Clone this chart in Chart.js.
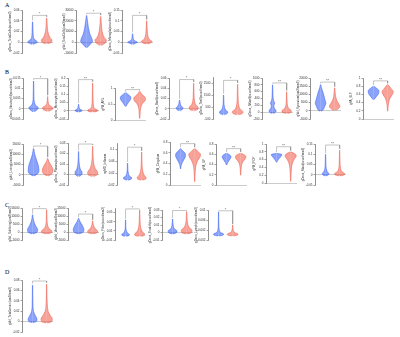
<!DOCTYPE html>
<html>
<head>
<meta charset="utf-8">
<script src="https://cdn.jsdelivr.net/npm/chart.js@4.4.0/dist/chart.umd.min.js"></script>
<style>
  body { margin: 0; background: #fff; }
  #fig { position: relative; width: 400px; height: 337px; overflow: hidden; }
  #fig canvas { position: absolute; }
  .tag { position: absolute; font: 6px "Liberation Serif", serif; color: #000; }
</style>
</head>
<body>
<div id="fig">
  <div class="tag" style="left:5px;top:2px">A</div>
  <div class="tag" style="left:5px;top:69px">B</div>
  <div class="tag" style="left:5px;top:202px">C</div>
  <div class="tag" style="left:5px;top:269px">D</div>
</div>
<script>
// groups on the x axis
const groups = ["Control", "RA"];

// one entry per small panel: A1-A3, B1-B15, C1-C5, D1
const panelNames = [
  "gDens_TotalCells(count/mm3)", "gVol_TotalCells(um3/mm3)", "gDens_Microglia(count/mm3)",
  "gDens_Neutrophil(count/mm3)", "gDens_Monocyte(count/mm3)", "gFA_ARL",
  "gDens_Bcell(count/mm3)", "gDens_Tcell(count/mm3)", "gDens_NKcell(count/mm3)",
  "gVol_Synovium(um3/mm3)", "gFA_SLF",
  "gVol_Lining(um3/mm3)", "gDens_Plasma(count/mm3)", "ngMD_Inflamm",
  "gFA_Cingulum", "gFA_ILF", "gFA_IFOF", "gDens_Mast(count/mm3)",
  "gVol_Sublining(um3/mm3)", "gVol_Vessel(um3/mm3)", "gDens_Fibro(count/mm3)",
  "gDens_Endoth(count/mm3)", "gDens_Lymph(count/mm3)",
  "gVol_TotalLesion(um3/mm3)"
];

const axisMin  = [-0.02, -10000, -0.05, -0.005, -0.05, 0, -0.02, -500, -200, -5000, 0,
                  -5000, -0.01, -0.02, 0, 0, 0, -0.05,
                  -5000, -5000, -0.01, -0.01, -0.002, -0.02];
const axisMax  = [0.06, 30000, 0.15, 0.015, 0.2, 1, 0.06, 3000, 1000, 20000, 1,
                  15000, 0.03, 0.12, 0.8, 0.8, 1, 0.15,
                  15000, 15000, 0.06, 0.03, 0.01, 0.08];
const axisStep = [0.02, 10000, 0.05, 0.005, 0.05, 0.5, 0.02, 500, 200, 5000, 0.2,
                  5000, 0.01, 0.02, 0.2, 0.2, 0.2, 0.05,
                  5000, 5000, 0.01, 0.01, 0.002, 0.02];

// violin outlines: y levels and relative density (1 = widest)
const controlY = [
  [-0.004, -0.002, 0, 0.003, 0.006, 0.012, 0.024, 0.038],
  [-5000, -2000, 1000, 4000, 8000, 14000, 20000, 25000],
  [-0.01, -0.004, 0, 0.005, 0.012, 0.025, 0.04],
  [-0.0015, -0.0005, 0.0005, 0.0015, 0.003, 0.006, 0.01, 0.0135],
  [-0.008, -0.002, 0.003, 0.01, 0.02, 0.04],
  [0.42, 0.5, 0.6, 0.68, 0.74, 0.8, 0.86],
  [-0.004, -0.001, 0.002, 0.006, 0.011, 0.017],
  [-150, -50, 80, 250, 500, 900, 1500],
  [-40, 0, 40, 100, 180, 260, 350, 500, 650, 800],
  [-300, 700, 2700, 4700, 6700, 10800, 14000, 16000],
  [0.47, 0.55, 0.62, 0.69, 0.74, 0.8],
  [-600, 500, 1600, 4000, 7200, 10000, 12800],
  [-0.002, 0, 0.002, 0.005, 0.01, 0.016, 0.022],
  [-0.004, 0, 0.004, 0.01, 0.02, 0.035, 0.053],
  [0.3, 0.36, 0.42, 0.48, 0.55, 0.6, 0.64, 0.68],
  [0.39, 0.44, 0.5, 0.55, 0.59, 0.62],
  [0.53, 0.6, 0.66, 0.7, 0.73, 0.76],
  [-0.006, 0, 0.006, 0.015, 0.03, 0.06, 0.1],
  [-1200, -200, 1400, 4400, 7500, 10800],
  [-1200, -200, 1400, 4400, 6500, 8600],
  [-0.002, 0, 0.002, 0.006, 0.012, 0.022, 0.034],
  [-0.002, 0, 0.002, 0.005, 0.01, 0.018],
  [-0.0004, 0, 0.0004, 0.001, 0.002, 0.004, 0.007, 0.0093],
  [-0.002, 0, 0.0045, 0.012, 0.02, 0.035, 0.05, 0.07]
];
const controlDensity = [
  [0.1, 0.5, 0.85, 0.6, 0.25, 0.12, 0.07, 0.02],
  [0.1, 0.6, 1.0, 0.85, 0.55, 0.3, 0.15, 0.03],
  [0.1, 0.55, 0.85, 0.5, 0.2, 0.08, 0.03],
  [0.1, 0.6, 0.8, 0.4, 0.15, 0.06, 0.04, 0.02],
  [0.1, 0.5, 0.6, 0.25, 0.1, 0.03],
  [0.05, 0.3, 0.7, 0.9, 0.8, 0.4, 0.05],
  [0.1, 0.5, 0.55, 0.25, 0.1, 0.03],
  [0.1, 0.6, 0.7, 0.35, 0.15, 0.06, 0.02],
  [0.1, 0.5, 0.6, 0.35, 0.2, 0.35, 0.15, 0.07, 0.04, 0.02],
  [0.1, 0.45, 0.7, 0.9, 0.75, 0.45, 0.15, 0.03],
  [0.05, 0.5, 0.85, 0.9, 0.6, 0.05],
  [0.1, 0.7, 0.9, 0.85, 0.5, 0.2, 0.03],
  [0.1, 0.55, 0.6, 0.3, 0.12, 0.05, 0.02],
  [0.1, 0.65, 0.7, 0.3, 0.12, 0.05, 0.02],
  [0.03, 0.1, 0.3, 0.6, 0.85, 0.7, 0.3, 0.03],
  [0.03, 0.2, 0.55, 0.75, 0.5, 0.03],
  [0.03, 0.3, 0.6, 0.85, 0.9, 0.05],
  [0.1, 0.5, 0.55, 0.3, 0.12, 0.05, 0.02],
  [0.1, 0.75, 0.85, 0.45, 0.15, 0.03],
  [0.1, 0.75, 0.9, 0.6, 0.25, 0.03],
  [0.1, 0.6, 0.65, 0.3, 0.1, 0.04, 0.02],
  [0.1, 0.7, 0.75, 0.3, 0.1, 0.02],
  [0.1, 0.8, 0.85, 0.35, 0.12, 0.05, 0.03, 0.02],
  [0.1, 0.6, 0.75, 0.45, 0.15, 0.06, 0.04, 0.02]
];
const raY = [
  [-0.003, 0, 0.004, 0.008, 0.014, 0.02, 0.03, 0.045],
  [-3000, -500, 2000, 4500, 8000, 12000, 18000, 24000],
  [-0.008, -0.002, 0.004, 0.012, 0.025, 0.05, 0.075, 0.1],
  [-0.0012, -0.0003, 0.0006, 0.0015, 0.0025, 0.004, 0.006],
  [-0.008, -0.002, 0.004, 0.012, 0.03, 0.06, 0.1, 0.17],
  [0.05, 0.2, 0.4, 0.52, 0.6, 0.68, 0.75, 0.82, 0.9],
  [-0.004, -0.001, 0.003, 0.008, 0.015, 0.03, 0.05],
  [-150, -40, 100, 300, 600, 1200, 1800, 2400],
  [-40, 0, 40, 100, 180, 300, 450, 600],
  [200, 1200, 2700, 4700, 7000, 10000, 14000],
  [0.19, 0.3, 0.42, 0.52, 0.6, 0.67, 0.74, 0.84],
  [-600, 500, 2400, 4800, 6500, 8000],
  [-0.002, 0, 0.002, 0.006, 0.012, 0.02, 0.027],
  [-0.004, 0, 0.005, 0.012, 0.025, 0.045, 0.07, 0.09],
  [0.06, 0.15, 0.25, 0.35, 0.45, 0.52, 0.57, 0.62, 0.68],
  [0.19, 0.28, 0.38, 0.45, 0.5, 0.55, 0.59, 0.62],
  [0.04, 0.15, 0.3, 0.45, 0.55, 0.63, 0.69, 0.74, 0.8],
  [-0.006, 0, 0.006, 0.015, 0.03, 0.06, 0.09, 0.12],
  [-1200, -200, 800, 2000, 4400, 8000, 14000],
  [-1200, -200, 800, 2500, 4500, 7000],
  [-0.002, 0, 0.003, 0.008, 0.016, 0.03, 0.045, 0.056],
  [-0.002, 0, 0.003, 0.007, 0.013, 0.02, 0.028],
  [-0.0004, 0, 0.0004, 0.001, 0.002, 0.004],
  [-0.003, 0, 0.005, 0.012, 0.02, 0.035, 0.055, 0.072]
];
const raDensity = [
  [0.2, 0.8, 0.9, 0.6, 0.35, 0.2, 0.1, 0.03],
  [0.15, 0.8, 0.95, 0.6, 0.35, 0.2, 0.1, 0.03],
  [0.2, 0.7, 0.9, 0.5, 0.25, 0.12, 0.06, 0.03],
  [0.15, 0.8, 0.85, 0.4, 0.15, 0.06, 0.02],
  [0.15, 0.8, 0.85, 0.4, 0.15, 0.08, 0.05, 0.02],
  [0.03, 0.08, 0.2, 0.5, 0.9, 1.0, 0.7, 0.3, 0.05],
  [0.15, 0.7, 0.75, 0.35, 0.15, 0.06, 0.02],
  [0.15, 0.8, 0.9, 0.45, 0.2, 0.08, 0.05, 0.02],
  [0.15, 0.75, 0.8, 0.4, 0.15, 0.08, 0.04, 0.02],
  [0.15, 0.6, 0.9, 0.6, 0.3, 0.12, 0.03],
  [0.02, 0.08, 0.2, 0.45, 0.8, 0.95, 0.6, 0.05],
  [0.1, 0.7, 0.9, 0.55, 0.2, 0.03],
  [0.15, 0.8, 0.85, 0.4, 0.15, 0.06, 0.02],
  [0.15, 0.7, 0.75, 0.45, 0.2, 0.08, 0.04, 0.02],
  [0.02, 0.05, 0.1, 0.2, 0.5, 0.9, 1.0, 0.6, 0.03],
  [0.02, 0.06, 0.15, 0.35, 0.7, 0.9, 0.6, 0.03],
  [0.02, 0.05, 0.1, 0.2, 0.4, 0.7, 0.95, 0.8, 0.05],
  [0.15, 0.8, 0.85, 0.4, 0.15, 0.07, 0.04, 0.02],
  [0.15, 0.9, 0.85, 0.45, 0.15, 0.06, 0.02],
  [0.15, 0.85, 0.8, 0.35, 0.12, 0.02],
  [0.15, 0.8, 0.85, 0.45, 0.2, 0.08, 0.04, 0.02],
  [0.15, 0.85, 0.9, 0.4, 0.15, 0.06, 0.02],
  [0.15, 0.85, 0.9, 0.35, 0.1, 0.02],
  [0.15, 0.85, 0.95, 0.6, 0.25, 0.1, 0.05, 0.02]
];

// significance bracket height and label
const bracketY = [0.05, 27000, 0.125, 0.0147, 0.19, 0.95, 0.057, 2720, 856, 17500, 0.93,
                  14000, 0.029, 0.106, 0.77, 0.71, 0.93, 0.145,
                  14600, 11200, 0.058, 0.0293, 0.0097, 0.078];
const sigLabels = ["*", "*", "*", "*", "**", "**", "*", "*", "**", "**", "**",
                   "*", "*", "*", "**", "**", "**", "**",
                   "*", "*", "*", "*", "*", "*"];

// panel placement: y-axis x, plot top, plot bottom (px)
const layout = [
  [22, 10, 53], [76, 10, 53], [122, 10, 53],
  [23, 78, 119], [68, 78, 119], [115, 88, 120], [169, 78, 119], [213, 77, 119],
  [262, 78, 119], [310, 78, 119], [363, 78, 119],
  [23, 144, 185], [68, 143, 185], [117, 143, 185], [170, 142, 185], [216, 144, 185],
  [266, 144, 183], [315, 144, 185],
  [22, 208, 240], [68, 208, 240], [115, 208, 240], [162, 210, 240], [208, 210, 240],
  [22, 280, 332]
];

const YW = 14, XH = 6, PAD_T = 4, PAD_R = 2, PW = 31;
const FONT = "Liberation Sans";
const fig = document.getElementById("fig");

const sigPlugin = {
  id: "sig",
  afterDatasetsDraw(chart, args, opts) {
    const ctx = chart.ctx;
    ctx.save();
    ctx.fillStyle = "#555";
    ctx.font = "4px '" + FONT + "'";
    ctx.textAlign = "center";
    ctx.textBaseline = "bottom";
    ctx.fillText(opts.text, chart.scales.x.getPixelForValue(1.5), chart.scales.y.getPixelForValue(opts.y) + 0.8);
    ctx.restore();
  }
};

function violin(c, ys, ds, line, fillCol) {
  return [-1, 1].map(side => ({
    data: ys.map((y, k) => ({ x: c + side * 0.42 * ds[k], y: y })),
    borderColor: line,
    backgroundColor: fillCol,
    borderWidth: 0.5,
    pointRadius: 0,
    fill: { value: c },
    cubicInterpolationMode: "monotone"
  }));
}

panelNames.forEach((name, i) => {
  const [ax, top, bottom] = layout[i];
  const cv = document.createElement("canvas");
  cv.width = YW + PW + PAD_R;
  cv.height = PAD_T + (bottom - top) + XH;
  cv.style.left = (ax - YW) + "px";
  cv.style.top = (top - PAD_T) + "px";
  fig.appendChild(cv);

  const range = axisMax[i] - axisMin[i];
  const legL = Math.max(...controlY[i]) + range * 0.03;
  const legR = Math.max(...raY[i]) + range * 0.03;

  new Chart(cv, {
    type: "line",
    data: {
      datasets: [
        ...violin(1, controlY[i], controlDensity[i], "rgb(50,90,240)", "rgba(60,100,245,0.6)"),
        ...violin(2, raY[i], raDensity[i], "rgb(236,86,70)", "rgba(242,98,82,0.6)"),
        {
          data: [{ x: 1, y: legL }, { x: 1, y: bracketY[i] }, { x: 2, y: bracketY[i] }, { x: 2, y: legR }],
          borderColor: "#888", borderWidth: 0.5, pointRadius: 0, fill: false, tension: 0
        }
      ]
    },
    options: {
      indexAxis: "y",
      responsive: false,
      animation: false,
      devicePixelRatio: 1,
      layout: { padding: { top: PAD_T, right: PAD_R, left: 0, bottom: 0 } },
      plugins: {
        legend: { display: false },
        tooltip: { enabled: false },
        sig: { text: sigLabels[i], y: bracketY[i] }
      },
      scales: {
        x: {
          type: "linear", min: 0.25, max: 2.45,
          grid: { display: false }, border: { display: false },
          afterBuildTicks: s => { s.ticks = [{ value: 1 }, { value: 2 }]; },
          afterFit: s => { s.height = XH; },
          ticks: {
            callback: v => groups[v - 1], autoSkip: false, maxRotation: 0,
            font: { size: 3, family: FONT }, color: "#333", padding: 1
          }
        },
        y: {
          type: "linear", min: axisMin[i], max: axisMax[i],
          afterFit: s => { s.width = YW; },
          ticks: {
            stepSize: axisStep[i], font: { size: 3, family: FONT }, color: "#333", padding: 1,
            callback: v => String(Number(v.toPrecision(6)))
          },
          grid: {
            color: c => (c.tick && Math.abs(c.tick.value) < 1e-12) ? "#999" : "rgba(0,0,0,0)",
            tickColor: "#444", tickLength: 1.5, lineWidth: 0.5
          },
          border: { color: "#444", width: 0.6 },
          title: { display: true, text: name, font: { size: 3, family: FONT }, color: "#333", padding: 0 }
        }
      }
    },
    plugins: [sigPlugin]
  });
});
</script>
</body>
</html>
